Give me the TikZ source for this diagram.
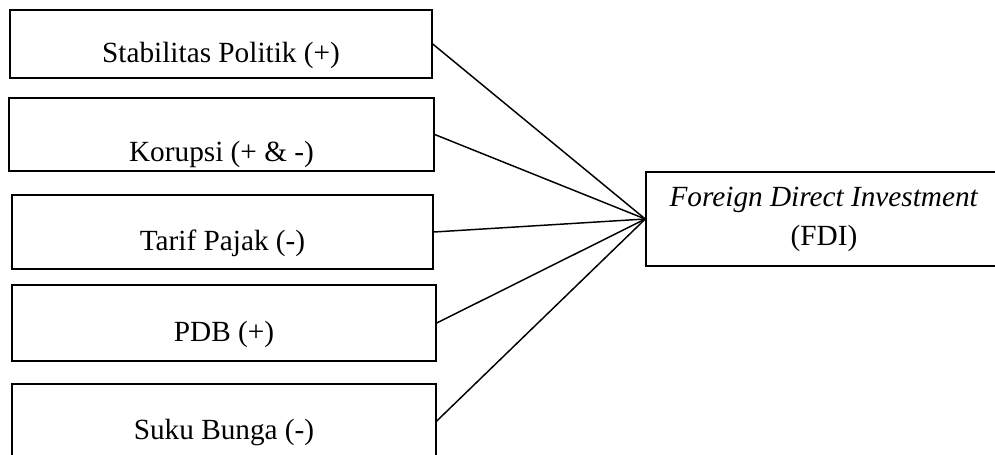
\documentclass[tikz,border=0pt]{standalone}
\usepackage{fontspec}
\setmainfont{Liberation Serif}

\begin{document}
\begin{tikzpicture}[
    x=0.41pt, y=-0.41pt,
    factor/.style={rectangle, draw=black, line width=0.6pt, inner sep=0pt,
                   font=\fontsize{12}{16}\selectfont, text depth=3pt},
    target/.style={rectangle, draw=black, line width=0.6pt, align=center,
                   font=\fontsize{12}{16}\selectfont},
    link/.style={draw=black, line width=0.6pt},
  ]
    \useasboundingbox (0,0) rectangle (995,454);

    % Dependent variable on the right
    \node[target, minimum width=356*0.41pt, minimum height=94*0.41pt]
      (fdi) at (824,219) {\textit{Foreign Direct Investment}\\(FDI)};

    % Determinants on the left, each one joined to the FDI box
    \foreach \name/\cx/\cy/\w/\h/\th/\txt in {%
      stab/221/44/422/68/18/Stabilitas Politik (+),
      koru/221.5/134.5/425/73/25/Korupsi (+ \& -),
      tarif/222.5/232/421/74/18/Tarif Pajak (-),
      pdb/224/323/424/76/18/PDB (+),
      bunga/224/421/424/74/18/Suku Bunga (-)}{
      \node[factor, minimum width=\w*0.41pt, minimum height=\h*0.41pt,
            text height=\th pt]
        (\name) at (\cx,\cy) {\txt};
      \draw[link] (\name.east) -- (fdi.west);
    }
\end{tikzpicture}
\end{document}
